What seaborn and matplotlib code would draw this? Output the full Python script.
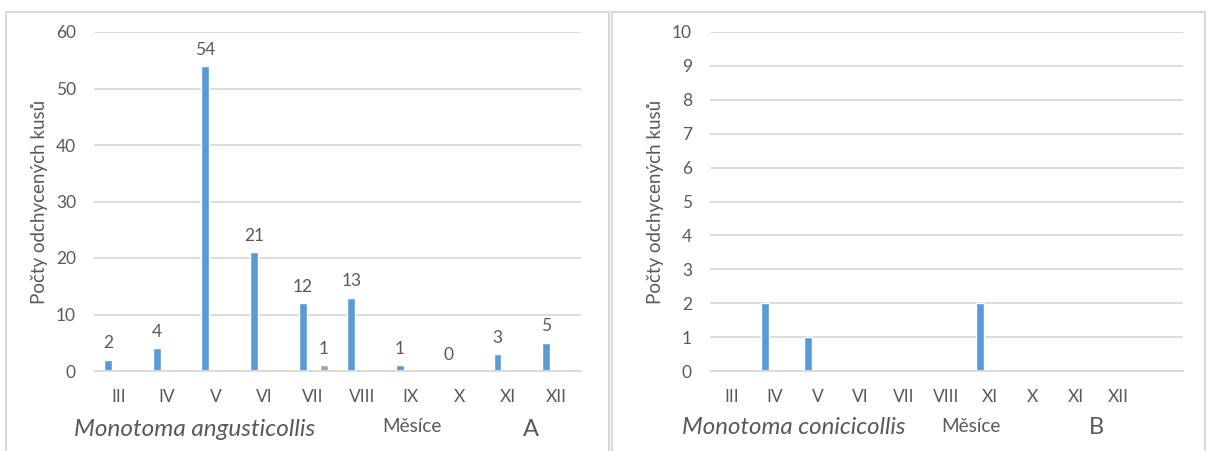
import pandas as pd
import matplotlib.pyplot as plt
import seaborn as sns
from matplotlib.patches import Rectangle

# --- data ---------------------------------------------------------------
months_a = ["III", "IV", "V", "VI", "VII", "VIII", "IX", "X", "XI", "XII"]
blue_a = [2, 4, 54, 21, 12, 13, 1, 0, 3, 5]
grey_a = [0, 0, 0, 0, 1, 0, 0, 0, 0, 0]

# the original chart B repeats "XI" in place of "IX"
months_b = ["III", "IV", "V", "VI", "VII", "VIII", "XI", "X", "XI", "XII"]
blue_b = [0, 2, 1, 0, 0, 0, 2, 0, 0, 0]
grey_b = [0, 0, 0, 0, 0, 0, 0, 0, 0, 0]

species_a = "Monotoma angusticollis"
species_b = "Monotoma conicicollis"
ylabel = "Počty odchycených kusů"
xlabel = "Měsíce"

BLUE = "#5B9BD5"
GREY = "#A5A5A5"
TEXT = "#595959"
GRID = "#D9D9D9"

sns.set_theme(style="white")
plt.rcParams["font.family"] = ["Lato", "DejaVu Sans"]


def long_df(blue, grey):
    n = len(blue)
    return pd.DataFrame({
        "pos": list(range(n)) * 2,
        "series": ["s1"] * n + ["s2"] * n,
        "count": list(blue) + list(grey),
    })


def draw_panel(ax, months, blue, grey, ymax, ystep, nslots, width, gap,
               show_labels):
    df = long_df(blue, grey)
    sns.barplot(data=df, x="pos", y="count", hue="series",
                order=list(range(len(months))), hue_order=["s1", "s2"],
                palette=[BLUE, GREY], width=width, gap=gap,
                legend=False, ax=ax, saturation=1)
    ax.set_xlim(-0.5, nslots - 0.5)
    ax.set_ylim(0, ymax)
    ax.set_yticks(range(0, ymax + 1, ystep))
    ax.set_xticks(range(len(months)))
    ax.set_xticklabels(months)
    ax.yaxis.grid(True, color=GRID, linewidth=1.3)
    ax.set_axisbelow(True)
    for s in ["left", "right", "top"]:
        ax.spines[s].set_visible(False)
    ax.spines["bottom"].set_color(GRID)
    ax.spines["bottom"].set_linewidth(1.3)
    ax.tick_params(axis="both", length=0, labelsize=12.5, colors=TEXT)
    ax.tick_params(axis="y", pad=13)
    ax.tick_params(axis="x", pad=13)
    ax.set_xlabel("")
    ax.set_ylabel(ylabel, fontsize=13.5, color=TEXT)
    if show_labels:
        conts = ax.containers
        ax.bar_label(conts[0], labels=[str(v) for v in blue], padding=6,
                     fontsize=12.5, color=TEXT)
        ax.bar_label(conts[1], labels=[str(v) if v else "" for v in grey],
                     padding=6, fontsize=12.5, color=TEXT)


fig = plt.figure(figsize=(12.2, 4.51), dpi=100)
W, H = 1220, 451


def fx(px):
    return px / W


def fy(py):
    return 1 - py / H


# panel frames
fig.add_artist(Rectangle((fx(6), fy(460)), fx(603), (460 - 12) / H,
                         transform=fig.transFigure, fill=False,
                         edgecolor=GRID, linewidth=1.5))
fig.add_artist(Rectangle((fx(612), fy(460)), fx(593), (460 - 12) / H,
                         transform=fig.transFigure, fill=False,
                         edgecolor=GRID, linewidth=1.5))

ax_a = fig.add_axes([fx(94), fy(371), fx(581 - 94), (371 - 32) / H])
draw_panel(ax_a, months_a, blue_a, grey_a, 60, 10, 10, 0.86, 0.62, True)
ax_a.yaxis.set_label_coords(fx(48 - 94) / fx(487), 0.5)

ax_b = fig.add_axes([fx(710), fy(371), fx(1183 - 710), (371 - 32) / H])
draw_panel(ax_b, months_b, blue_b, grey_b, 10, 1, 11, 0.88, 0.59, False)
ax_b.yaxis.set_label_coords(fx(664 - 710) / fx(473), 0.5)

# captions below each panel
fig.text(fx(74), fy(430), species_a, style="italic", fontsize=17.5,
         color=TEXT, va="center", ha="left")
fig.text(fx(412), fy(426), xlabel, fontsize=13.7, color=TEXT,
         va="center", ha="center")
fig.text(fx(531), fy(430), "A", fontsize=17, color=TEXT,
         va="center", ha="center")

fig.text(fx(682), fy(428), species_b, style="italic", fontsize=17.3,
         color=TEXT, va="center", ha="left")
fig.text(fx(971), fy(426), xlabel, fontsize=13.7, color=TEXT,
         va="center", ha="center")
fig.text(fx(1096), fy(428), "B", fontsize=17, color=TEXT,
         va="center", ha="center")

fig.savefig("out.png", dpi=100, facecolor="white")
